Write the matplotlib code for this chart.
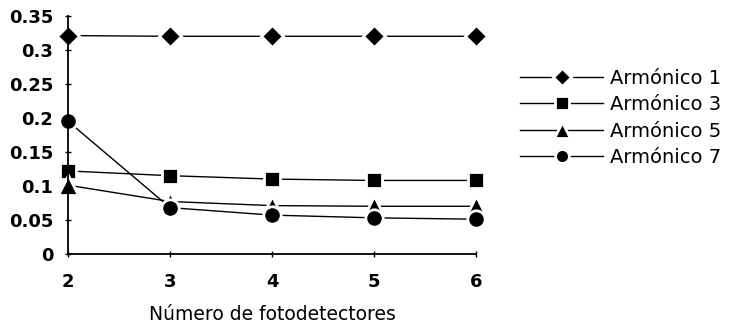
import matplotlib
matplotlib.use('Agg')
import matplotlib.pyplot as plt

plt.rcParams['font.family'] = ['DejaVu Sans']

fotodetectores = [2, 3, 4, 5, 6]
armonico_1 = [0.321, 0.320, 0.320, 0.320, 0.320]
armonico_3 = [0.122, 0.115, 0.110, 0.108, 0.108]
armonico_5 = [0.101, 0.077, 0.071, 0.070, 0.070]
armonico_7 = [0.195, 0.068, 0.057, 0.053, 0.051]

series = [
    ('Armónico 1', armonico_1, 'D', 11),
    ('Armónico 3', armonico_3, 's', 12),
    ('Armónico 5', armonico_5, '^', 14),
    ('Armónico 7', armonico_7, 'o', 12.5),
]

fig = plt.figure(figsize=(7.29, 3.31), dpi=100)
ax = fig.add_axes([0.0933, 0.233, 0.5597, 0.719])

for nombre, valores, marcador, tam in series:
    ax.plot(fotodetectores, valores, color='black', linewidth=1.0,
            marker=marcador, markersize=tam, markerfacecolor='black',
            markeredgecolor='white', markeredgewidth=2.0,
            clip_on=False, label=nombre)

ax.set_xlim(2, 6)
ax.set_ylim(0, 0.35)
ax.set_xticks(fotodetectores)
ax.set_yticks([0, 0.05, 0.1, 0.15, 0.2, 0.25, 0.3, 0.35])
ax.set_yticklabels(['0', '0.05', '0.1', '0.15', '0.2', '0.25', '0.3', '0.35'])
for lado in ['top', 'right']:
    ax.spines[lado].set_visible(False)
ax.spines['left'].set_linewidth(1.3)
ax.spines['bottom'].set_linewidth(1.3)
ax.tick_params(direction='inout', length=5, width=1, labelsize=13)
ax.tick_params(axis='x', pad=11)
ax.tick_params(axis='y', pad=8)
for lbl in ax.get_xticklabels() + ax.get_yticklabels():
    lbl.set_fontweight('bold')
ax.set_xlabel('Número de fotodetectores', fontsize=13.5, labelpad=10)

fig.legend(loc='center left', bbox_to_anchor=(0.713, 0.644), frameon=False,
           fontsize=14, handlelength=4.3, handletextpad=0.35, labelspacing=0.38,
           borderpad=0, borderaxespad=0, markerscale=0.8)

fig.savefig('out.png', dpi=100)
